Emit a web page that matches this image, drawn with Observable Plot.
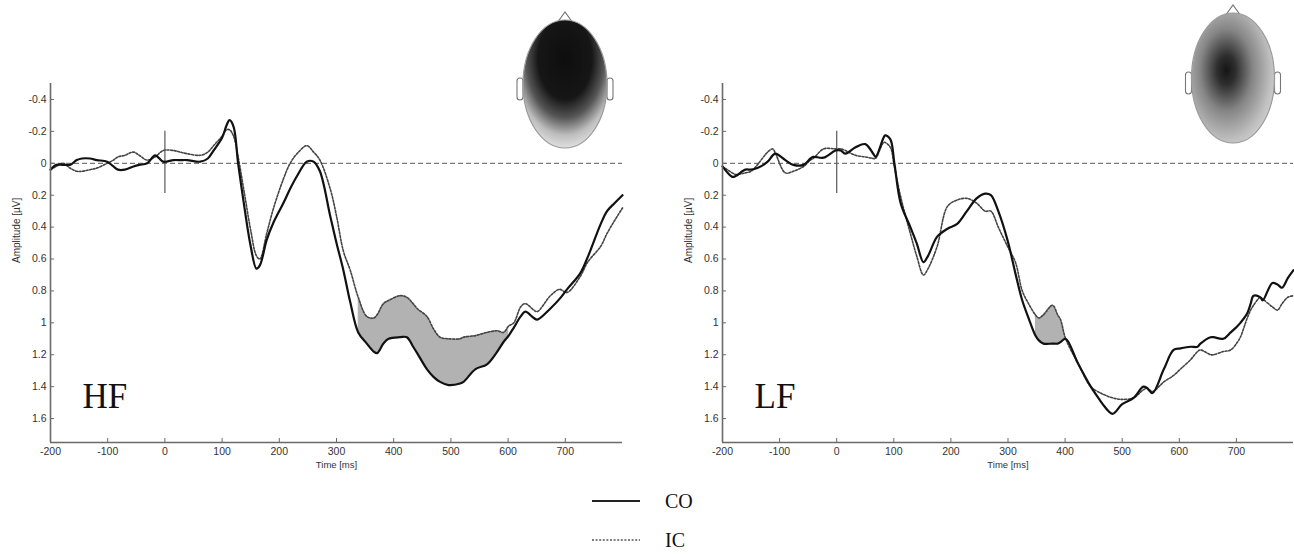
<!DOCTYPE html>
<html>
<head>
<meta charset="utf-8">
<script src="https://cdn.jsdelivr.net/npm/d3@7"></script>
<script src="https://cdn.jsdelivr.net/npm/@observablehq/plot@0.6"></script>
<style>
  html, body { margin: 0; padding: 0; background: #fff; }
  #root { position: relative; width: 1294px; height: 554px; overflow: hidden; }
  .panel { position: absolute; top: 0; }
  .overlay { position: absolute; left: 0; top: 0; pointer-events: none; }
</style>
</head>
<body>
<div id="root"></div>
<script>
// ---------------- data ----------------
const hfTime = [-200,-190,-178,-166,-154,-145,-131,-119,-101,-90,-82,-70,-55,-45,-31,-17,-3,15,27,39,62,75,85,100,108,113,120,128,140,150,160,166,178,190,207,219,231,248,260,271,289,300,312,324,338,353,365,371,382,391,411,423,434,441,458,470,481,496,516,522,543,563,581,592,601,610,622,630,645,651,674,690,703,726,739,762,773,786,800];
const hfCO = [0.04,0.01,0.01,0.01,-0.02,-0.03,-0.03,-0.02,-0.01,0.02,0.04,0.04,0.02,0.01,0.00,-0.05,-0.01,-0.02,-0.02,-0.02,-0.01,-0.03,-0.08,-0.16,-0.24,-0.27,-0.23,0.00,0.30,0.52,0.66,0.64,0.48,0.37,0.25,0.16,0.08,-0.01,-0.01,0.05,0.33,0.50,0.67,0.87,1.06,1.13,1.18,1.19,1.13,1.10,1.09,1.09,1.15,1.19,1.29,1.34,1.37,1.39,1.38,1.37,1.29,1.26,1.18,1.12,1.08,1.03,0.96,0.93,0.97,0.98,0.91,0.85,0.79,0.69,0.59,0.38,0.30,0.25,0.20];
const hfIC = [0.04,0.02,0.00,0.03,0.05,0.05,0.04,0.03,0.00,-0.02,-0.04,-0.05,-0.07,-0.05,-0.02,-0.04,-0.08,-0.08,-0.07,-0.06,-0.05,-0.07,-0.11,-0.17,-0.21,-0.21,-0.17,-0.04,0.21,0.42,0.58,0.60,0.44,0.28,0.10,0.00,-0.06,-0.11,-0.07,-0.02,0.16,0.33,0.55,0.67,0.84,0.96,0.97,0.95,0.88,0.86,0.83,0.84,0.88,0.91,0.96,1.04,1.09,1.10,1.10,1.09,1.08,1.06,1.05,1.06,1.02,1.00,0.90,0.88,0.92,0.93,0.83,0.79,0.81,0.71,0.62,0.52,0.44,0.36,0.28];

const lfTime = [-200,-183,-177,-160,-150,-139,-121,-112,-107,-90,-76,-58,-46,-41,-23,-2,7,15,33,50,64,68,82,85,94,101,112,129,140,152,160,176,194,211,228,245,260,270,283,299,313,325,336,348,354,362,378,387,392,401,422,445,462,468,483,500,520,537,544,553,573,590,602,620,632,637,655,660,677,690,702,707,719,725,730,742,746,763,772,780,790,800];
const lfCO = [0.02,0.085,0.08,0.04,0.04,0.03,-0.01,-0.05,-0.06,-0.02,0.01,0.01,-0.03,-0.04,-0.035,-0.08,-0.08,-0.06,-0.10,-0.12,-0.06,-0.04,-0.16,-0.175,-0.15,0.00,0.25,0.40,0.50,0.62,0.58,0.46,0.41,0.38,0.30,0.22,0.19,0.20,0.30,0.48,0.69,0.86,0.97,1.08,1.11,1.13,1.13,1.13,1.12,1.10,1.25,1.40,1.49,1.52,1.57,1.51,1.47,1.40,1.41,1.44,1.29,1.17,1.16,1.15,1.15,1.13,1.09,1.09,1.10,1.06,1.02,1.00,0.94,0.88,0.83,0.84,0.86,0.75,0.76,0.78,0.72,0.67];
const lfIC = [0.02,0.06,0.07,0.06,0.05,0.01,-0.07,-0.09,-0.06,0.06,0.05,0.02,-0.02,-0.03,-0.09,-0.09,-0.09,-0.08,-0.05,-0.04,-0.03,-0.03,-0.13,-0.13,-0.10,0.02,0.21,0.44,0.58,0.70,0.66,0.52,0.27,0.23,0.22,0.25,0.30,0.30,0.40,0.52,0.62,0.80,0.88,0.95,0.97,0.95,0.89,0.95,0.98,1.10,1.25,1.40,1.44,1.45,1.47,1.48,1.47,1.42,1.41,1.43,1.37,1.33,1.29,1.23,1.18,1.17,1.20,1.20,1.18,1.17,1.12,1.09,0.97,0.92,0.89,0.84,0.85,0.90,0.92,0.88,0.84,0.83];

const panelNames = ["HF", "LF"];
const hfSignificant = [338, 601];   // shaded difference window (ms)
const lfSignificant = [348, 401];
const xTicks = [-200, -100, 0, 100, 200, 300, 400, 500, 600, 700];
const yTicks = [-0.4, -0.2, 0, 0.2, 0.4, 0.6, 0.8, 1, 1.2, 1.4, 1.6];
const legendLabels = ["CO", "IC"];
const xLabel = "Time [ms]";
const yLabel = "Amplitude [µV]";

// ---------------- chart ----------------
const sans = "Liberation Sans, Arial, sans-serif";
const serif = "Liberation Serif, Times New Roman, serif";
const axisColor = "#6a6a6a";
const labelColor = "#333";
const icDash = "2,1.6";

function rows(time, co, ic) {
  return time.map((t, i) => ({t, co: co[i], ic: ic[i]}));
}

function panel(name, time, co, ic, sig, left, width, marginRight) {
  const data = rows(time, co, ic);
  const shaded = data.filter(d => d.t >= sig[0] && d.t <= sig[1]);
  const fmtY = d => d === 0 ? "0" : String(+d.toFixed(1));
  const fmtX = d => String(d);
  const chart = Plot.plot({
    width, height: 480,
    marginLeft: 50, marginRight, marginTop: 83, marginBottom: 38,
    style: {background: "transparent", overflow: "visible"},
    x: {domain: [-200, 800]},
    y: {domain: [-0.5, 1.75], reverse: true},
    marks: [
      Plot.areaY(shaded, {x: "t", y1: "co", y2: "ic", fill: "#b2b2b2", curve: "catmull-rom"}),
      Plot.ruleY([0], {stroke: "#777", strokeWidth: 1.3, strokeDasharray: "5,3"}),
      Plot.ruleX([0], {y1: -0.2, y2: 0.19, stroke: "#666", strokeWidth: 1.3}),
      Plot.line(data, {x: "t", y: "ic", stroke: "#444", strokeWidth: 1.6, strokeDasharray: icDash, curve: "catmull-rom"}),
      Plot.line(data, {x: "t", y: "co", stroke: "#111", strokeWidth: 2.2, curve: "catmull-rom"}),
      // axis lines
      Plot.ruleX([-200], {stroke: axisColor, strokeWidth: 1.6}),
      Plot.ruleY([1.75], {stroke: axisColor, strokeWidth: 1.6}),
      // inward ticks
      Plot.axisX(xTicks, {anchor: "bottom", tickSize: 4, dy: -4, tickFormat: () => "", stroke: axisColor, label: null}),
      Plot.axisY(yTicks, {anchor: "left", tickSize: 4, dx: 4, tickFormat: () => "", stroke: axisColor, label: null}),
      // tick labels
      Plot.axisX(xTicks, {anchor: "bottom", tickSize: 0, tickPadding: 5, fontSize: 10.5, fontFamily: sans, fill: labelColor, tickFormat: fmtX, label: null}),
      Plot.axisY(yTicks, {anchor: "left", tickSize: 0, tickPadding: 4, fontSize: 10.5, fontFamily: sans, fill: labelColor, tickFormat: fmtY, label: null}),
      // axis titles
      Plot.text([xLabel], {frameAnchor: "bottom", dy: 25, fontSize: 9.5, fontFamily: sans, fill: labelColor}),
      Plot.text([yLabel], {frameAnchor: "left", dx: -34, dy: 0, rotate: -90, fontSize: 10, fontFamily: sans, fill: labelColor}),
      // panel name
      Plot.text([name], {frameAnchor: "bottom-left", dx: 32, dy: -35, textAnchor: "start", lineAnchor: "bottom", fontSize: 35, fontFamily: serif, fill: "#111"})
    ]
  });
  const div = document.createElement("div");
  div.className = "panel";
  div.style.left = left + "px";
  div.appendChild(chart);
  document.getElementById("root").appendChild(div);
}

panel(panelNames[0], hfTime, hfCO, hfIC, hfSignificant, 0, 640, 18);
panel(panelNames[1], lfTime, lfCO, lfIC, lfSignificant, 672, 622, 1);

// ---------------- decorations: scalp maps and legend ----------------
const svg = d3.select("#root").append("svg")
  .attr("class", "overlay").attr("width", 1294).attr("height", 554);
const defs = svg.append("defs");

function gradient(id, cx, cy, r, stops) {
  const g = defs.append("radialGradient").attr("id", id)
    .attr("cx", cx).attr("cy", cy).attr("r", r).attr("fx", cx).attr("fy", cy);
  stops.forEach(([o, c]) => g.append("stop").attr("offset", o).attr("stop-color", c));
}
gradient("headHF", 0.5, 0.3, 0.8, [[0, "#0e0e0e"], [0.4, "#161616"], [0.58, "#555"], [0.75, "#bdbdbd"], [0.9, "#e6e6e6"], [1, "#f2f2f2"]]);
gradient("headLF", 0.42, 0.44, 0.75, [[0, "#151515"], [0.15, "#2e2e2e"], [0.42, "#858585"], [0.72, "#c0c0c0"], [1, "#e6e6e6"]]);

function head(cx, cy, rx, ry, fillId) {
  const g = svg.append("g");
  // nose
  g.append("path").attr("d", `M${cx - 8},${cy - ry + 3} L${cx},${cy - ry - 8} L${cx + 8},${cy - ry + 3}`)
    .attr("fill", "none").attr("stroke", "#777").attr("stroke-width", 1.2);
  // ears
  [-1, 1].forEach(s => {
    const ex = cx + s * (rx + 3);
    g.append("rect").attr("x", ex - 3).attr("y", cy - 6).attr("width", 6).attr("height", 22)
      .attr("rx", 3).attr("fill", "#fff").attr("stroke", "#777").attr("stroke-width", 1.1);
  });
  g.append("ellipse").attr("cx", cx).attr("cy", cy).attr("rx", rx).attr("ry", ry)
    .attr("fill", `url(#${fillId})`).attr("stroke", "#999").attr("stroke-width", 1.2);
}
head(565, 84, 42, 64, "headHF");
head(1233, 78, 41.5, 65, "headLF");

// legend
const leg = svg.append("g");
legendLabels.forEach((lab, i) => {
  const y = 501 + i * 39;
  leg.append("line").attr("x1", 592).attr("x2", 640).attr("y1", y).attr("y2", y)
    .attr("stroke", i === 0 ? "#222" : "#555").attr("stroke-width", i === 0 ? 2 : 1.6)
    .attr("stroke-dasharray", i === 0 ? null : icDash);
  leg.append("text").attr("x", 665).attr("y", y + 7).text(lab)
    .attr("font-family", serif).attr("font-size", 20).attr("fill", "#111");
});
</script>
</body>
</html>
